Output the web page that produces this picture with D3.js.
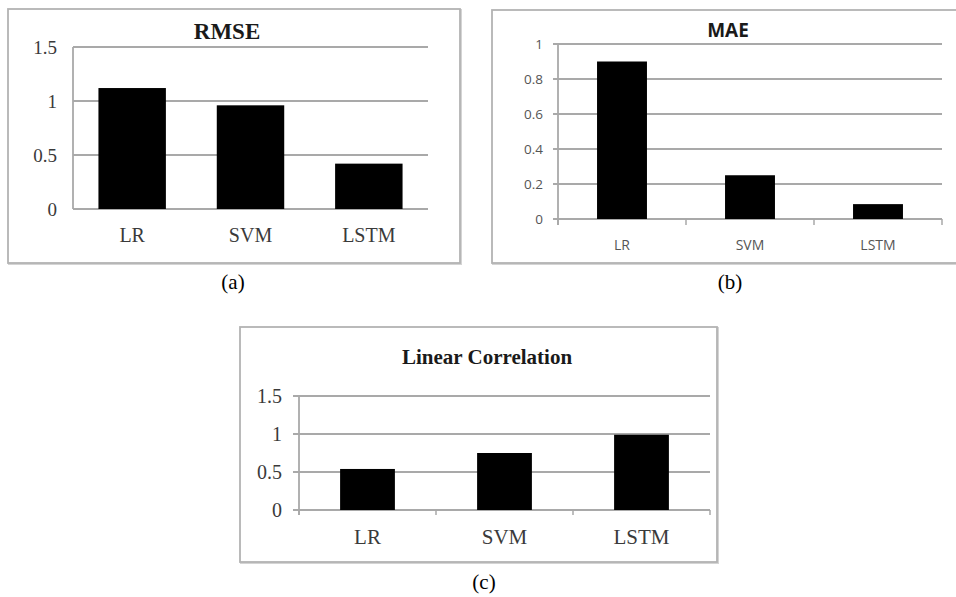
<!DOCTYPE html>
<html>
<head>
<meta charset="utf-8">
<script src="https://cdn.jsdelivr.net/npm/d3@7/dist/d3.min.js"></script>
<style>
  html, body { margin: 0; padding: 0; background: #fff; }
  svg { display: block; }
  .serif { font-family: "Liberation Serif", "DejaVu Serif", serif; }
  .sans { font-family: "Open Sans", Lato, "Liberation Sans", sans-serif; }
</style>
</head>
<body>
<svg id="chart" width="956" height="597"></svg>
<script>
// ---- data ----
const categories = ["LR", "SVM", "LSTM"];
const rmseValues = [1.12, 0.96, 0.42];
const maeValues = [0.90, 0.25, 0.085];
const corrValues = [0.54, 0.75, 0.99];
const rmseTicks = [0, 0.5, 1, 1.5];
const maeTicks = [0, 0.2, 0.4, 0.6, 0.8, 1];
const corrTicks = [0, 0.5, 1, 1.5];
const titles = ["RMSE", "MAE", "Linear Correlation"];
const captions = ["(a)", "(b)", "(c)"];

const svg = d3.select("#chart");

const panels = [
  { values: rmseValues, ticks: rmseTicks, title: titles[0], caption: captions[0],
    box: [8, 9, 452, 254], plot: [73, 428, 47, 209], pad: 0.43, font: "serif",
    titleX: 227, titleY: 31, titleSize: 23, tickSize: 19, tickEnd: 57, yTick: 0, xTick: 0,
    catY: 235, catSize: 20, capX: 233, capY: 282, labelColor: "#3a3a3a" },
  { values: maeValues, ticks: maeTicks, title: titles[1], caption: captions[1],
    box: [492, 10, 480, 253], plot: [558, 942, 44, 219], pad: 0.61, font: "sans",
    titleX: 728, titleY: 30, titleSize: 19, tickSize: 13.5, tickEnd: 543, yTick: 5, xTick: 6,
    catY: 244, catSize: 14, capX: 730, capY: 282, labelColor: "#555" },
  { values: corrValues, ticks: corrTicks, title: titles[2], caption: captions[2],
    box: [240, 327, 477, 235], plot: [299, 710, 396, 510], pad: 0.6, font: "serif",
    titleX: 487, titleY: 357, titleSize: 21, tickSize: 20, tickEnd: 282, yTick: 6, xTick: 5,
    catY: 537, catSize: 21, capX: 484, capY: 582, labelColor: "#3a3a3a" }
];

panels.forEach(p => {
  const g = svg.append("g");
  const [bx, by, bw, bh] = p.box;
  // frame with slight shadow
  g.append("rect").attr("x", bx + 1).attr("y", by + 1).attr("width", bw).attr("height", bh)
    .attr("fill", "none").attr("stroke", "#d4d4d4").attr("stroke-width", 2);
  g.append("rect").attr("x", bx).attr("y", by).attr("width", bw).attr("height", bh)
    .attr("fill", "#fff").attr("stroke", "#b3b3b3").attr("stroke-width", 1.8);

  const [x0, x1, yTop, yBot] = p.plot;
  const x = d3.scaleBand().domain(categories).range([x0, x1]).paddingInner(p.pad).paddingOuter(p.pad / 2);
  const y = d3.scaleLinear().domain([0, d3.max(p.ticks)]).range([yBot, yTop]);

  // gridlines
  g.append("g").selectAll("line").data(p.ticks).join("line")
    .attr("x1", x0 - p.yTick).attr("x2", x1)
    .attr("y1", d => y(d)).attr("y2", d => y(d))
    .attr("stroke", "#a9a9a9").attr("stroke-width", 1.8);

  // y axis line
  g.append("line").attr("x1", x0).attr("x2", x0).attr("y1", yTop).attr("y2", yBot + (p.xTick ? p.xTick : 0))
    .attr("stroke", "#a9a9a9").attr("stroke-width", 1.8);

  // x tick marks at category boundaries
  if (p.xTick) {
    const bounds = categories.map(c => x(c) - x.step() * p.pad / 2).concat([x1]);
    g.append("g").selectAll("line").data(bounds).join("line")
      .attr("x1", d => d).attr("x2", d => d)
      .attr("y1", yBot).attr("y2", yBot + p.xTick)
      .attr("stroke", "#a9a9a9").attr("stroke-width", 1.5);
  }

  // bars
  g.append("g").selectAll("rect").data(p.values).join("rect")
    .attr("x", (d, i) => x(categories[i]))
    .attr("width", x.bandwidth())
    .attr("y", d => y(d))
    .attr("height", d => yBot - y(d))
    .attr("fill", "#000");

  // y tick labels
  g.append("g").selectAll("text").data(p.ticks).join("text")
    .attr("class", p.font)
    .attr("x", p.tickEnd).attr("y", d => y(d))
    .attr("text-anchor", "end").attr("dominant-baseline", "central")
    .style("font-size", p.tickSize + "px")
    .attr("fill", p.labelColor)
    .text(d => String(d));

  // category labels
  g.append("g").selectAll("text").data(categories).join("text")
    .attr("class", p.font)
    .attr("x", d => x(d) + x.bandwidth() / 2).attr("y", p.catY)
    .attr("text-anchor", "middle").attr("dominant-baseline", "central")
    .style("font-size", p.catSize + "px")
    .attr("fill", p.labelColor)
    .text(d => d);

  // title
  g.append("text").attr("class", p.font).attr("x", p.titleX).attr("y", p.titleY)
    .attr("text-anchor", "middle").attr("dominant-baseline", "central")
    .style("font-size", p.titleSize + "px").style("font-weight", "bold")
    .attr("fill", "#1a1a1a")
    .text(p.title);

  // caption
  svg.append("text").attr("class", "serif").attr("x", p.capX).attr("y", p.capY)
    .attr("text-anchor", "middle").attr("dominant-baseline", "central")
    .style("font-size", "21px")
    .attr("fill", "#000")
    .text(p.caption);
});
</script>
</body>
</html>
